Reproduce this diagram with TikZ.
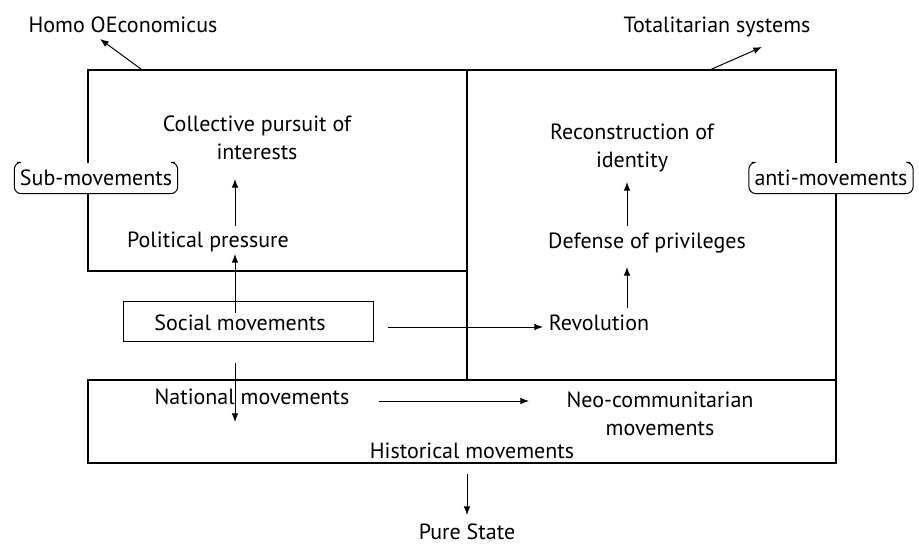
\documentclass[tikz,border=0pt]{standalone}
\usepackage{fontspec}
\setmainfont{PT Sans}
\usetikzlibrary{arrows.meta}

\begin{document}
\begin{tikzpicture}[x=0.75pt,y=-0.75pt]
\tikzset{frame/.style={draw=black,line width=1.1pt,inner sep=0pt}}
\tikzset{flow/.style={draw=black,-{Latex[length=6.5pt,width=5pt]},line width=0.75pt}}
\tikzset{txt/.style={font=\fontsize{16.5}{21}\selectfont,inner sep=0pt,align=center}}
\tikzset{side/.style={txt,fill=white,inner xsep=4pt,inner ysep=5.5pt}}
\tikzset{bracket/.style={draw=black,line width=0.75pt,rounded corners=5pt}}

\path[use as bounding box] (0,0) rectangle (919,544);

\node[frame,minimum width=284.25pt,minimum height=150.75pt] (lbox) at (277.5,170.5) {};
\node[frame,minimum width=276.75pt,minimum height=232.5pt] (rbox) at (651.5,225) {};
\node[frame,minimum width=561pt,minimum height=62.25pt] (bbox) at (462,421.5) {};
\node[draw=black,line width=0.75pt,minimum width=187.5pt,minimum height=30pt] (socbox) at (248,321) {};

\node[txt] (homo)  at (123,25)  {Homo OEconomicus};
\node[txt] (total) at (717,27)  {Totalitarian systems};
\node[txt] (coll)  at (257,138) {Collective pursuit of\\interests};
\node[txt] (rec)   at (632,148) {Reconstruction of\\identity};
\node[txt] (pol)   at (208,242) {Political pressure};
\node[txt] (def)   at (647,243) {Defense of privileges};
\node[txt] (soc)   at (240,323) {Social movements};
\node[txt] (rev)   at (599,323) {Revolution};
\node[txt] (nat)   at (252,397) {National movements};
\node[txt] (neo)   at (660,414) {Neo-communitarian\\movements};
\node[txt] (hist)  at (472,451) {Historical movements};
\node[txt] (pure)  at (467,532) {Pure State};

\node[side] (sub)  at (96,178)  {Sub-movements};
\node[side] (anti) at (831,178) {anti-movements};
\path[bracket] ([xshift=2pt]sub.north west) -- (sub.north west) -- (sub.south west) -- (sub.south east) -- (sub.north east) -- ([xshift=-2pt]sub.north east);
\path[bracket] ([xshift=2pt]anti.north west) -- (anti.north west) -- (anti.south west) -- (anti.south east) -- (anti.north east) -- ([xshift=-2pt]anti.north east);

\path[flow] ([shift={(54,0)}]lbox.north west) -- ([shift={(-23,14)}]homo.center);
\path[flow] ([shift={(245,0)}]rbox.north west) -- ([shift={(45,20)}]total.center);

\path[flow] ([shift={(27,-16)}]pol.center) -- ([shift={(-22,41)}]coll.center);
\path[flow] ([shift={(-13,-8)}]socbox.center) -- ([shift={(27,12)}]pol.center);
\path[flow] ([shift={(-13,42)}]socbox.center) -- ([shift={(-17,25)}]nat.center);
\path[flow] ([shift={(140,6)}]socbox.center) -- ([shift={(-56,4)}]rev.center);

\path[flow] ([shift={(28,-15)}]rev.center) -- ([shift={(-20,24)}]def.center);
\path[flow] ([shift={(-20,-17)}]def.center) -- ([shift={(-5,34)}]rec.center);

\path[flow] ([shift={(127,4)}]nat.center) -- ([shift={(-131,-13)}]neo.center);
\path[flow] ([shift={(-5,23)}]hist.center) -- ([shift={(0,-17)}]pure.center);
\end{tikzpicture}
\end{document}
